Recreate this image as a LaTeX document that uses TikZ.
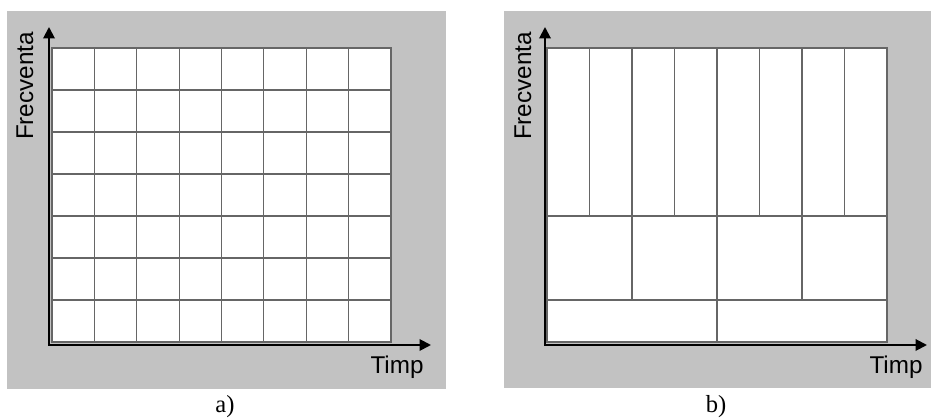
\documentclass[tikz,border=0pt]{standalone}
\usepackage{fontspec}
\setmainfont{Liberation Serif}
\setsansfont{Liberation Sans}
\usetikzlibrary{arrows.meta, positioning}
\definecolor{panelgray}{gray}{0.76}
\definecolor{gridgray}{gray}{0.4}

\begin{document}
\begin{tikzpicture}[
  x=0.02cm, y=-0.02cm,
  panel/.style={fill=panelgray, draw=none},
  cell/.style={draw=gridgray, line width=0.6pt},
  axis/.style={{Triangle[length=2.3mm, width=2.3mm]}-{Triangle[length=2.3mm, width=2.3mm]}, line width=1.1pt},
  lbl/.style={font=\sffamily\fontsize{13.8}{16}\selectfont},
  caption/.style={font=\fontsize{14}{16}\selectfont}
]
\useasboundingbox (0,0) rectangle (931,418);

\fill[panel] (7,11) rectangle (446,389);
\fill[panel] (504,11) rectangle (931,388);

% a) uniform grid
\filldraw[cell, fill=white] (52,48) rectangle (391,342);
\foreach \i in {1,...,7}
  \draw[cell] (52+42.375*\i,48) -- (52+42.375*\i,342);
\foreach \j in {1,...,6}
  \draw[cell] (52,48+42*\j) -- (391,48+42*\j);

% b) tiling
\filldraw[cell, fill=white] (547,48) rectangle (887,342);
\foreach \i in {1,...,7}
  \draw[cell] (547+42.5*\i,48) -- (547+42.5*\i,216);
\foreach \i in {2,4,6}
  \draw[cell] (547+42.5*\i,216) -- (547+42.5*\i,300);
\draw[cell] (717,300) -- (717,342);
\draw[cell] (547,216) -- (887,216);
\draw[cell] (547,300) -- (887,300);

\coordinate (ya) at (49,27);
\coordinate (xa) at (431,345);
\coordinate (yb) at (545,27);
\coordinate (xb) at (927,345);
\draw[axis] (ya) |- (xa);
\draw[axis] (yb) |- (xb);

\node[lbl, rotate=90] (fa) at (25,86) {Frecventa};
\node[lbl, anchor=base] (ta) at (397,374) {Timp};
\node[lbl, rotate=90] (fb) at (523,86) {Frecventa};
\node[lbl, anchor=base] (tb) at (896,374) {Timp};

\node[caption, anchor=base] (capa) at (225,413) {a)};
\node[caption, anchor=base] (capb) at (716,413) {b)};
\end{tikzpicture}
\end{document}
